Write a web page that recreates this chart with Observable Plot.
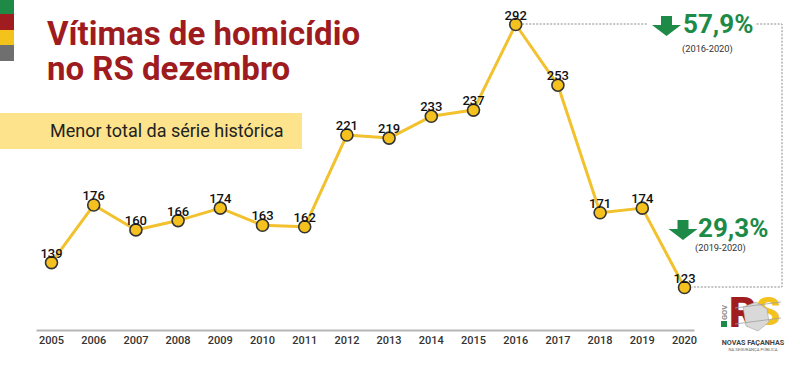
<!DOCTYPE html>
<html><head><meta charset="utf-8">
<script src="https://cdn.jsdelivr.net/npm/d3@7"></script>
<script src="https://cdn.jsdelivr.net/npm/@observablehq/plot@0.6"></script>
<style>
body{margin:0;background:#fff;font-family:Roboto,"Noto Sans",sans-serif;}
#wrap{position:relative;width:800px;height:368px;overflow:hidden;background:#fff;}
#chart{position:absolute;left:0;top:0;}
.stripe{position:absolute;left:0;width:14px;}
.title{position:absolute;left:47px;font-size:33px;font-weight:700;color:#9e1b20;line-height:35px;height:35px;white-space:nowrap;}
#sub{position:absolute;left:0;top:113px;width:302px;height:36px;background:#fce38c;}
#sub span{position:absolute;left:50px;top:7px;font-size:18px;line-height:21px;color:#222;white-space:nowrap;}
</style>
</head><body>
<div id="wrap">
  <div id="chart"></div>
  <div class="stripe" style="top:0;height:14px;background:#1e8a46"></div>
  <div class="stripe" style="top:14px;height:16px;background:#a01c1f"></div>
  <div class="stripe" style="top:30px;height:15px;background:#f3c21b"></div>
  <div class="stripe" style="top:45px;height:16px;background:#6f6f6f"></div>
  <div class="title" style="top:16px">Vítimas de homicídio</div>
  <div class="title" style="top:51px">no RS dezembro</div>
  <div id="sub"><span>Menor total da série histórica</span></div>
</div>
<script>
// ---- data ----
const years = [2005,2006,2007,2008,2009,2010,2011,2012,2013,2014,2015,2016,2017,2018,2019,2020];
const values = [139,176,160,166,174,163,162,221,219,233,237,292,253,171,174,123];
const tickLabels = years.map(String);
const changeLabels = ["57,9%", "29,3%"];
const changePeriods = ["(2016-2020)", "(2019-2020)"];
const data = years.map((year, i) => ({year, value: values[i]}));

const lineColor = "#f2c12e";
const green = "#1e8a47";

const plot = Plot.plot({
  width: 800,
  height: 368,
  marginLeft: 37,
  marginRight: 107,
  marginTop: 0,
  marginBottom: 38,
  style: {fontFamily: "Roboto, sans-serif", background: "transparent"},
  x: {domain: [2005, 2020], insetLeft: 14, insetRight: 9, axis: null, label: null},
  y: {domain: [123, 292], insetTop: 24, insetBottom: 43, axis: null, label: null},
  marks: [
    Plot.frame({anchor: "bottom", stroke: "#b5b5b5", strokeWidth: 2}),
    Plot.axisX({ticks: years, tickFormat: d => tickLabels[years.indexOf(d)], tickSize: 0, tickPadding: 6,
      fontSize: 11, fontWeight: 500, fill: "#333", label: null}),
    Plot.line(data, {x: "year", y: "value", stroke: lineColor, strokeWidth: 3}),
    Plot.dot(data, {x: "year", y: "value", r: 6, fill: "#f4c11f", stroke: "#333", strokeWidth: 1.6}),
    Plot.text(data, {x: "year", y: "value", text: d => String(d.value), lineAnchor: "bottom", dy: -5,
      fontSize: 13, fontWeight: 500, fill: "#111"})
  ]
});
document.getElementById("chart").appendChild(plot);

// ---- annotations positioned from the scales ----
const xs = plot.scale("x"), ys = plot.scale("y");
const svg = d3.select(plot);
const peakI = values.indexOf(d3.max(values));
const lastI = values.length - 1;
const px = xs.apply(years[peakI]), py = ys.apply(values[peakI]);
const lx = xs.apply(years[lastI]), ly = ys.apply(values[lastI]);
const bx = 782;
svg.insert("path", ":first-child")
  .attr("d", `M${px + 7},${py}H${bx}V${ly}H${lx + 8}`)
  .attr("fill", "none").attr("stroke", "#8a8a8a").attr("stroke-width", 1).attr("stroke-dasharray", "2,1.5");

function arrow(g, cx, top) {
  g.append("path")
    .attr("d", `M${cx-5.5},${top}H${cx+5.5}V${top+9}H${cx+14.5}L${cx},${top+20}L${cx-14.5},${top+9}H${cx-5.5}Z`)
    .attr("fill", green);
}
const ann = [
  {cx: 666.5, top: 16, tx: 683, ty: 33, px: 682, pyy: 52, bg: [648, 8, 107, 48]},
  {cx: 683, top: 220, tx: 698, ty: 237, px: 695, pyy: 251, bg: null}
];
ann.forEach((a, i) => {
  const g = svg.append("g").attr("text-anchor", "start");
  if (a.bg) g.append("rect").attr("x", a.bg[0]).attr("y", a.bg[1]).attr("width", a.bg[2]).attr("height", a.bg[3]).attr("fill", "#fff");
  arrow(g, a.cx, a.top);
  g.append("text").attr("x", a.tx).attr("y", a.ty).text(changeLabels[i])
    .attr("font-size", 26).attr("font-weight", 700).attr("fill", green).attr("font-family", "Roboto, sans-serif");
  g.append("text").attr("x", a.px).attr("y", a.pyy).text(changePeriods[i])
    .attr("font-size", 9.3).attr("fill", "#333").attr("font-family", "Roboto, sans-serif");
});

// ---- logo (approximation) ----
const lg = svg.append("g").attr("font-family", "Roboto, sans-serif").attr("text-anchor", "start");
lg.append("text").attr("transform", "translate(727,320) rotate(-90)").text("GOV")
  .attr("font-size", 7.5).attr("font-weight", 700).attr("fill", "#8a8a8a");
lg.append("rect").attr("x", 721).attr("y", 321).attr("width", 6).attr("height", 6).attr("fill", "#1e8a47");
lg.append("text").attr("x", 729).attr("y", 327).text("R").attr("font-size", 42).attr("font-weight", 900).attr("fill", "#a01c1f");
lg.append("text").attr("x", 756).attr("y", 325).text("S").attr("font-size", 39).attr("font-weight", 900).attr("fill", "#f3c21b");
lg.append("path").attr("d", "M743,307L756,302L767,309L769,322L758,331L746,326Z").attr("fill", "#d9d9d9").attr("stroke", "#999").attr("stroke-width", 0.5);
lg.append("path").attr("d", "M735,308L781,302M735,324L781,318").attr("stroke", "#a0a0a0").attr("stroke-width", 0.8);
lg.append("text").attr("x", 753).attr("y", 344.5).attr("text-anchor", "middle").text("NOVAS FAÇANHAS")
  .attr("font-size", 7.2).attr("font-weight", 700).attr("fill", "#444");
lg.append("text").attr("x", 753).attr("y", 350.5).attr("text-anchor", "middle").text("NA SEGURANÇA PÚBLICA")
  .attr("font-size", 4.2).attr("fill", "#666");
</script>
</body></html>
